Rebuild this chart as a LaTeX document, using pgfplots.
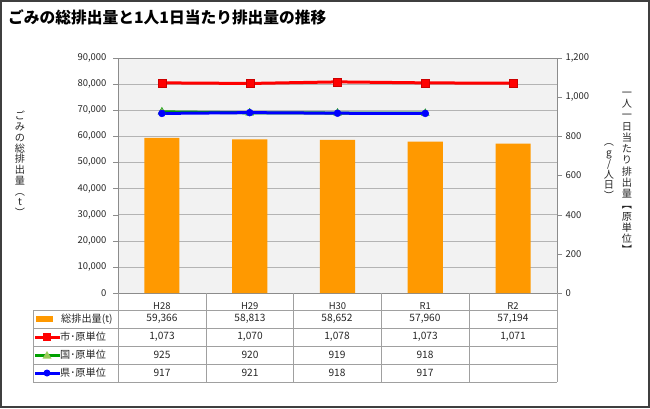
\documentclass[border=0pt]{standalone}
\usepackage{fontspec}
\setmainfont{Noto Sans CJK JP}
\usepackage{pgfplots}
\pgfplotsset{compat=1.18}

\definecolor{frameC}{HTML}{3F3F3F}
\definecolor{plotbg}{HTML}{F2F2F2}
\definecolor{gridC}{HTML}{B4B4B4}
\definecolor{axisC}{HTML}{8C8C8C}
\definecolor{tableC}{HTML}{A0A0A0}
\definecolor{txtC}{HTML}{262626}
\definecolor{barC}{HTML}{FF9900}
\definecolor{cityC}{HTML}{FF0000}
\definecolor{natC}{HTML}{00A000}
\definecolor{natL}{HTML}{9BCB5A}
\definecolor{prefC}{HTML}{0000FF}

\begin{document}
\begin{tikzpicture}[x=1bp,y=1bp]
\useasboundingbox (0,0) rectangle (650,408);
\draw[frameC, line width=2bp] (1,1) rectangle (649,407);

% title
\node[anchor=west, inner sep=0, font=\bfseries\fontsize{15.8}{18}\selectfont] at (8,391)
  {ごみの総排出量と1人1日当たり排出量の推移};

% left axis: total waste (t)
\begin{axis}[
    at={(118bp,115bp)}, anchor=south west,
    width=439bp, height=235bp, scale only axis,
    xmin=-0.5, xmax=4.5, ymin=0, ymax=90000,
    axis background/.style={fill=plotbg},
    axis line style={axisC},
    xtick={0,1,2,3,4},
    xticklabels={H28,H29,H30,R1,R2},
    xtick style={draw=none},
    xticklabel style={anchor=center, yshift=-8.5bp},
    ytick={0,10000,...,90000},
    ytick pos=left, tick align=outside, major tick length=5bp,
    ytick style={axisC},
    yticklabel style={xshift=-3bp},
    scaled y ticks=false,
    ymajorgrids, grid style={gridC},
    ticklabel style={font=\fontsize{9.5}{11}\selectfont, text=txtC},
    /pgf/number format/.cd, 1000 sep={,}, assume math mode=true,
  ]
  \addplot[ybar, bar width=0.4, fill=barC, draw=none]
    coordinates {(0,59366) (1,58813) (2,58652) (3,57960) (4,57194)};
\end{axis}

% right axis: per person per day (g)
\begin{axis}[
    at={(118bp,115bp)}, anchor=south west,
    width=439bp, height=235bp, scale only axis,
    xmin=-0.5, xmax=4.5, ymin=0, ymax=1200,
    axis x line=none, axis y line*=right,
    axis line style={axisC},
    ytick={0,200,...,1200},
    tick align=outside, major tick length=5bp,
    ytick style={axisC},
    ticklabel style={font=\fontsize{9.5}{11}\selectfont, text=txtC},
    /pgf/number format/.cd, 1000 sep={,}, assume math mode=true,
  ]
  \addplot[natC, line width=3bp, mark=triangle*,
      mark options={fill=natL, draw=natC, line width=0.4bp}, mark size=4.5bp]
    coordinates {(0,925) (1,920) (2,919) (3,918)};
  \addplot[prefC, line width=3bp, mark=*,
      mark options={fill=prefC, line width=0.4bp}, mark size=3.5bp]
    coordinates {(0,917) (1,921) (2,918) (3,917)};
  \addplot[cityC, line width=3bp, mark=square*,
      mark options={fill=cityC, draw=cityC!80!black, line width=0.4bp}, mark size=4bp]
    coordinates {(0,1073) (1,1070) (2,1078) (3,1073) (4,1071)};
\end{axis}

% y labels (vertical)
\node[align=center, inner sep=0, text=txtC, font=\fontsize{10.2}{10.8}\selectfont] at (20,244)
  {ご\\み\\の\\総\\排\\出\\量\\︵\\t\\︶};
\node[align=center, inner sep=0, text=txtC, font=\fontsize{10.2}{11.3}\selectfont] at (627,235)
  {一\\人\\一\\日\\当\\た\\り\\排\\出\\量\\︻\\原\\単\\位\\︼};
\node[align=center, inner sep=0, text=txtC, font=\fontsize{10.2}{10.5}\selectfont] at (609,236.5)
  {︵\\g\\/\\人\\日\\︶};

% data table
\draw[tableC, line width=1bp]
  (33,98) -- (557,98) (33,80) -- (557,80) (33,62) -- (557,62)
  (33,44) -- (557,44) (33,26) -- (557,26)
  (33,98) -- (33,26);
\foreach \x in {118,206,293,381,469,557}
  \draw[tableC, line width=1bp] (\x,115) -- (\x,26);

\begin{scope}[every node/.style={font=\fontsize{10.2}{12}\selectfont, text=txtC, inner sep=0}]
  % legend column
  \fill[barC] (36,86) rectangle (53,92);
  \node[anchor=west] at (61,89) {総排出量(t)};
  \draw[cityC, line width=3bp] (35,71) -- (60,71);
  \fill[cityC] (43,67) rectangle (51,75);
  \node[anchor=west] at (60,71) {市･原単位};
  \draw[natC, line width=3bp] (35,53) -- (60,53);
  \fill[natL] (42.5,49.5) -- (51.5,49.5) -- (47,57) -- cycle;
  \node[anchor=west] at (60,53) {国･原単位};
  \draw[prefC, line width=3bp] (35,35) -- (60,35);
  \fill[prefC] (47,35) circle (3.5);
  \node[anchor=west] at (60,35) {県･原単位};
  % values
  \foreach \x/\v in {162/59{,}366, 250/58{,}813, 337/58{,}652, 425/57{,}960, 513/57{,}194}
    \node at (\x,89) {\v};
  \foreach \x/\v in {162/1{,}073, 250/1{,}070, 337/1{,}078, 425/1{,}073, 513/1{,}071}
    \node at (\x,71) {\v};
  \foreach \x/\v in {162/925, 250/920, 337/919, 425/918}
    \node at (\x,53) {\v};
  \foreach \x/\v in {162/917, 250/921, 337/918, 425/917}
    \node at (\x,35) {\v};
\end{scope}
\end{tikzpicture}
\end{document}
